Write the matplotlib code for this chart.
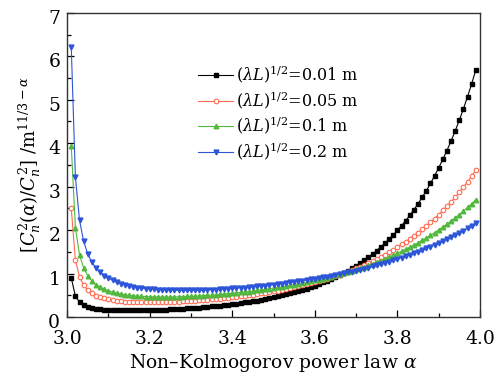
import numpy as np
import matplotlib
matplotlib.use("Agg")
import matplotlib.pyplot as plt
from matplotlib.ticker import MultipleLocator
import matplotlib.transforms as mtransforms

alpha = np.round(np.arange(301, 400) / 100.0, 2)

black_001 = [
    0.900, 0.481, 0.343, 0.275, 0.235, 0.210, 0.192, 0.180, 0.171, 0.164,
    0.160, 0.156, 0.154, 0.153, 0.153, 0.153, 0.154, 0.155, 0.157, 0.160,
    0.162, 0.165, 0.169, 0.173, 0.177, 0.182, 0.187, 0.193, 0.199, 0.205,
    0.212, 0.219, 0.227, 0.235, 0.244, 0.253, 0.263, 0.274, 0.285, 0.296,
    0.308, 0.321, 0.335, 0.349, 0.364, 0.380, 0.397, 0.415, 0.434, 0.454,
    0.475, 0.497, 0.520, 0.544, 0.570, 0.597, 0.626, 0.657, 0.689, 0.723,
    0.759, 0.796, 0.835, 0.877, 0.921, 0.967, 1.017, 1.069, 1.124, 1.182,
    1.244, 1.309, 1.379, 1.452, 1.529, 1.612, 1.700, 1.792, 1.891, 1.995,
    2.103, 2.218, 2.340, 2.470, 2.607, 2.753, 2.908, 3.073, 3.247, 3.433,
    3.627, 3.832, 4.051, 4.282, 4.529, 4.793, 5.073, 5.370, 5.685]

red_005 = [
    2.50, 1.31, 0.922, 0.731, 0.618, 0.545, 0.494, 0.457, 0.430, 0.409,
    0.391, 0.377, 0.366, 0.357, 0.350, 0.345, 0.342, 0.339, 0.338, 0.338,
    0.338, 0.339, 0.341, 0.343, 0.346, 0.350, 0.354, 0.359, 0.365, 0.371,
    0.377, 0.383, 0.390, 0.398, 0.406, 0.415, 0.424, 0.434, 0.444, 0.455,
    0.466, 0.478, 0.490, 0.503, 0.516, 0.530, 0.545, 0.561, 0.577, 0.594,
    0.611, 0.629, 0.648, 0.667, 0.688, 0.709, 0.732, 0.756, 0.780, 0.805,
    0.831, 0.858, 0.886, 0.915, 0.946, 0.978, 1.011, 1.046, 1.082, 1.120,
    1.160, 1.201, 1.245, 1.290, 1.337, 1.387, 1.439, 1.493, 1.550, 1.609,
    1.670, 1.733, 1.799, 1.868, 1.941, 2.016, 2.096, 2.180, 2.267, 2.358,
    2.452, 2.549, 2.651, 2.758, 2.871, 2.990, 3.113, 3.243, 3.379]

green_01 = [
    3.94, 2.06, 1.43, 1.13, 0.948, 0.830, 0.747, 0.686, 0.641, 0.606,
    0.575, 0.550, 0.530, 0.514, 0.501, 0.490, 0.482, 0.476, 0.471, 0.467,
    0.464, 0.462, 0.462, 0.462, 0.462, 0.464, 0.466, 0.470, 0.473, 0.478,
    0.482, 0.487, 0.493, 0.499, 0.506, 0.513, 0.521, 0.529, 0.538, 0.547,
    0.557, 0.567, 0.577, 0.588, 0.600, 0.612, 0.625, 0.638, 0.652, 0.667,
    0.681, 0.696, 0.712, 0.729, 0.746, 0.764, 0.782, 0.802, 0.822, 0.843,
    0.864, 0.886, 0.909, 0.932, 0.957, 0.982, 1.009, 1.036, 1.065, 1.095,
    1.126, 1.158, 1.191, 1.226, 1.262, 1.300, 1.339, 1.380, 1.423, 1.467,
    1.512, 1.558, 1.606, 1.657, 1.709, 1.763, 1.820, 1.880, 1.941, 2.006,
    2.071, 2.138, 2.209, 2.282, 2.358, 2.439, 2.522, 2.609, 2.700]

blue_02 = [
    6.21, 3.22, 2.23, 1.74, 1.45, 1.26, 1.13, 1.03, 0.956, 0.898,
    0.846, 0.804, 0.769, 0.741, 0.717, 0.697, 0.680, 0.666, 0.655, 0.646,
    0.637, 0.630, 0.625, 0.620, 0.617, 0.615, 0.614, 0.614, 0.615, 0.616,
    0.617, 0.620, 0.622, 0.626, 0.630, 0.634, 0.639, 0.645, 0.652, 0.659,
    0.665, 0.672, 0.680, 0.688, 0.697, 0.706, 0.716, 0.726, 0.737, 0.748,
    0.759, 0.771, 0.783, 0.796, 0.809, 0.822, 0.837, 0.852, 0.867, 0.883,
    0.899, 0.915, 0.932, 0.950, 0.968, 0.987, 1.007, 1.027, 1.048, 1.070,
    1.093, 1.116, 1.140, 1.165, 1.191, 1.218, 1.247, 1.276, 1.306, 1.338,
    1.369, 1.401, 1.434, 1.469, 1.505, 1.542, 1.581, 1.621, 1.663, 1.706,
    1.749, 1.794, 1.840, 1.888, 1.938, 1.990, 2.044, 2.100, 2.158]

labels = [r"$(\lambda L)^{1/2}$=0.01 m", r"$(\lambda L)^{1/2}$=0.05 m",
          r"$(\lambda L)^{1/2}$=0.1 m", r"$(\lambda L)^{1/2}$=0.2 m"]
xticks = [3.0, 3.2, 3.4, 3.6, 3.8, 4.0]
yticks = [0, 1, 2, 3, 4, 5, 6, 7]

plt.rcParams['font.family'] = ['DejaVu Serif']
plt.rcParams['mathtext.fontset'] = 'dejavuserif'

fig = plt.figure(figsize=(5.01, 3.77), dpi=100)
ax = fig.add_axes([0.134, 0.159, 0.824, 0.807])

styles = [
    dict(color='black', marker='s', mfc='black', mec='black', ms=2.8),
    dict(color='#ff6a50', marker='o', mfc='white', mec='#ff6a50', ms=3.3, mew=0.8),
    dict(color='#52b83e', marker='^', mfc='#52b83e', mec='#52b83e', ms=3.3),
    dict(color='#2d55d8', marker='v', mfc='#2d55d8', mec='#2d55d8', ms=3.5),
]
series = [black_001, red_005, green_01, blue_02]
for vals, st, lab in zip(series, styles, labels):
    ax.plot(alpha, vals, lw=0.8, label=lab, **st)

ax.set_xlim(3.0, 4.0)
ax.set_ylim(0, 7)
ax.set_xticks(xticks)
ax.set_yticks(yticks)
ax.set_xticklabels([f"{t:.1f}" for t in xticks])
ax.xaxis.set_minor_locator(MultipleLocator(0.1))
ax.yaxis.set_minor_locator(MultipleLocator(0.5))
ax.tick_params(which='both', direction='in', top=False, right=False,
               labelsize=13.5, width=0.9)
ax.tick_params(which='major', length=5)
ax.tick_params(which='minor', length=3)
ax.tick_params(axis='x', which='major', pad=9)
ax.tick_params(axis='y', which='major', pad=5)
offset = mtransforms.ScaledTranslation(0, -4 / 100.0, fig.dpi_scale_trans)
for lab in ax.get_yticklabels():
    lab.set_transform(lab.get_transform() + offset)
for sp in ax.spines.values():
    sp.set_linewidth(1.0)
    sp.set_color('#333333')

ax.set_xlabel("Non\u2013Kolmogorov power law $\\alpha$", fontsize=13.5, labelpad=3)
ax.set_ylabel(r"$[C_n^2(\alpha)/C_n^2]$ /m$^{11/3-\alpha}$", fontsize=13, labelpad=4)

leg = ax.legend(loc='upper left', bbox_to_anchor=(0.29, 0.87), frameon=False,
                fontsize=11.5, numpoints=1, handlelength=2.2, handletextpad=0.2,
                labelspacing=0.25, borderpad=0.2)

fig.savefig("out.png", dpi=100)
